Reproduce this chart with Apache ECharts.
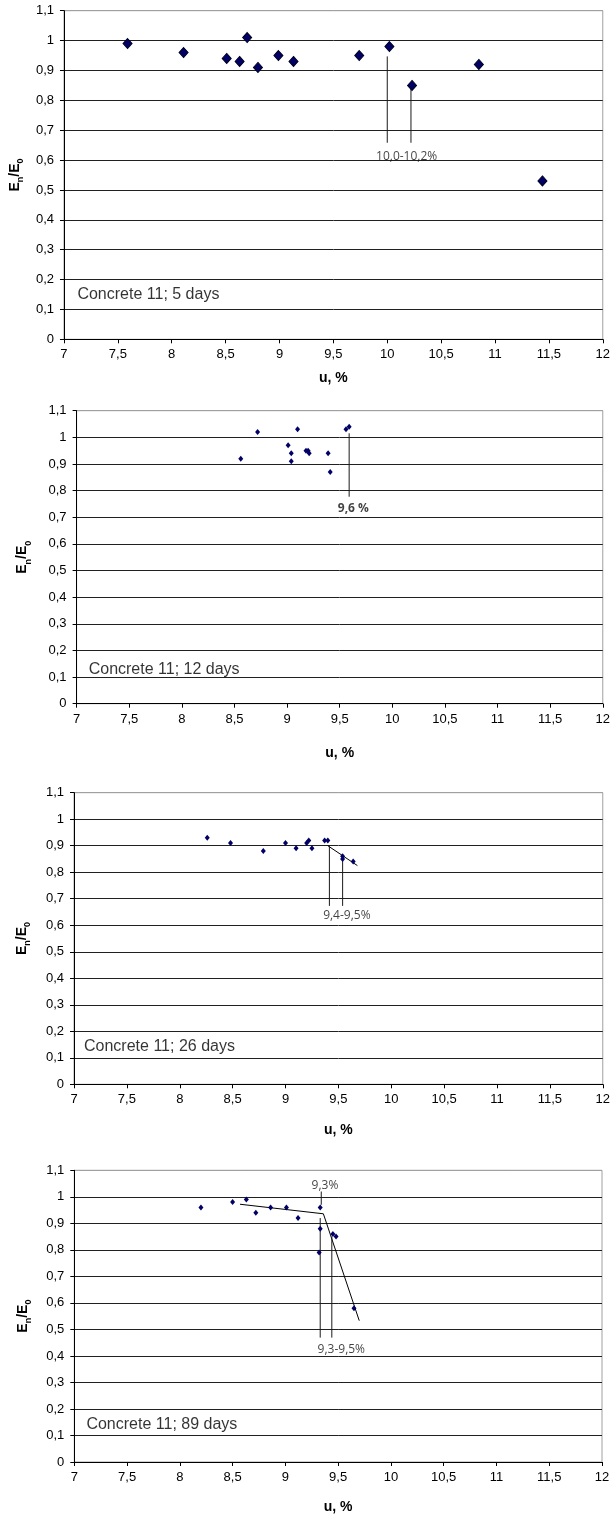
<!DOCTYPE html>
<html>
<head>
<meta charset="utf-8">
<script src="https://cdn.jsdelivr.net/npm/echarts@6/dist/echarts.min.js"></script>
<style>
html,body{margin:0;padding:0;background:#fff;}
#chart{width:613px;height:1515px;}
</style>
</head>
<body>
<div id="chart"></div>
<script>
// ---------- data ----------
const titles = ['Concrete 11; 5 days', 'Concrete 11; 12 days', 'Concrete 11; 26 days', 'Concrete 11; 89 days'];
const xAxisTitle = 'u, %';

const c1x = [7.59, 8.11, 8.51, 8.63, 8.70, 8.80, 8.99, 9.13, 9.74, 10.02, 10.23, 10.85, 11.44];
const c1y = [0.99, 0.96, 0.94, 0.93, 1.01, 0.91, 0.95, 0.93, 0.95, 0.98, 0.85, 0.92, 0.53];

const c2x = [8.56, 8.72, 9.01, 9.04, 9.04, 9.10, 9.18, 9.20, 9.21, 9.39, 9.41, 9.56, 9.59];
const c2y = [0.92, 1.02, 0.97, 0.94, 0.91, 1.03, 0.95, 0.95, 0.94, 0.94, 0.87, 1.03, 1.04];

const c3x = [8.26, 8.48, 8.79, 9.00, 9.10, 9.20, 9.22, 9.25, 9.37, 9.40, 9.54, 9.54, 9.64];
const c3y = [0.93, 0.91, 0.88, 0.91, 0.89, 0.91, 0.92, 0.89, 0.92, 0.92, 0.86, 0.85, 0.84];

const c4x = [8.20, 8.50, 8.63, 8.72, 8.86, 9.01, 9.12, 9.33, 9.33, 9.32, 9.45, 9.48, 9.65];
const c4y = [0.96, 0.98, 0.99, 0.94, 0.96, 0.96, 0.92, 0.96, 0.88, 0.79, 0.86, 0.85, 0.58];

// trend lines
const t3x = [9.40, 9.68];
const t3y = [0.90, 0.825];
const t4x = [8.57, 9.36, 9.70];
const t4y = [0.972, 0.936, 0.533];

// annotation leader lines (x, yTop, yBottom)
const lead1 = [[10.00, 0.947, 0.658], [10.22, 0.84, 0.658]];
const lead2 = [[9.59, 1.015, 0.777]];
const lead3 = [[9.415, 0.90, 0.673], [9.54, 0.85, 0.673]];
const lead4 = [[9.34, 1.02, 0.97], [9.33, 0.92, 0.469], [9.44, 0.85, 0.469]];

// annotation texts (text, x, y)
const ann1 = [['10,0-10,2%', 10.18, 0.61]];
const ann2 = [['9,6 %', 9.63, 0.733]];
const ann3 = [['9,4-9,5%', 9.58, 0.635]];
const ann4 = [['9,3%', 9.375, 1.044], ['9,3-9,5%', 9.53, 0.424]];

// panel captions positions (x, y)
const capPos = [[7.12, 0.148], [7.11, 0.129], [7.09, 0.144], [7.11, 0.142]];

// ---------- layout ----------
const grids = [
  {left: 62.5, top: 10.7, width: 540.7, height: 328.6},
  {left: 76.6, top: 410.7, width: 527.4, height: 293},
  {left: 74, top: 792.7, width: 529, height: 291.6},
  {left: 74.3, top: 1170.3, width: 527.7, height: 292.4}
];
const xNameGap = [32, 42, 39, 38];
const yNameGap = [29, 47, 45, 44];

const fmt = v => String(Math.round(v * 10) / 10).replace('.', ',');
const FONT = 'Liberation Sans, Arial, sans-serif';

const gridLineColors = [];
for (let i = 0; i <= 11; i++) gridLineColors.push(i === 11 ? '#a0a0a0' : '#202020');

const option = {
  animation: false,
  backgroundColor: '#fff',
  grid: grids.map(g => Object.assign({show: true, borderColor: '#a0a0a0', borderWidth: 1, backgroundColor: 'transparent'}, g)),
  xAxis: grids.map((g, i) => ({
    gridIndex: i, type: 'value', min: 7, max: 12, interval: 0.5,
    name: xAxisTitle, nameLocation: 'middle', nameGap: xNameGap[i],
    nameTextStyle: {fontFamily: FONT, fontSize: 14, fontWeight: 'bold', color: '#000'},
    axisLine: {show: true, onZero: false, lineStyle: {color: '#000', width: 1}},
    axisTick: {show: true, length: 4, lineStyle: {color: '#000'}},
    axisLabel: {formatter: fmt, fontFamily: FONT, fontSize: 13, color: '#000', margin: 9},
    splitLine: {show: false}
  })),
  yAxis: grids.map((g, i) => ({
    gridIndex: i, type: 'value', min: 0, max: 1.1, interval: 0.1,
    name: '{b|E}{s|n}{b|/E}{s|0}', nameLocation: 'middle', nameGap: yNameGap[i], nameRotate: 90,
    nameTextStyle: {
      rich: {
        b: {fontFamily: FONT, fontSize: 14, fontWeight: 'bold', color: '#000', verticalAlign: 'bottom', lineHeight: 16},
        s: {fontFamily: FONT, fontSize: 9, fontWeight: 'bold', color: '#000', verticalAlign: 'bottom', lineHeight: 12, padding: [0, 0, -3, 0]}
      }
    },
    axisLine: {show: true, lineStyle: {color: '#000', width: 1}},
    axisTick: {show: true, length: 4, lineStyle: {color: '#000'}},
    axisLabel: {formatter: fmt, fontFamily: FONT, fontSize: 13, color: '#000', margin: 10},
    splitLine: {show: true, lineStyle: {color: gridLineColors, width: 1}}
  })),
  series: []
};

const pts = [[c1x, c1y], [c2x, c2y], [c3x, c3y], [c4x, c4y]];
pts.forEach((p, i) => {
  option.series.push({
    type: 'scatter', xAxisIndex: i, yAxisIndex: i, silent: true,
    symbol: 'diamond', symbolSize: i === 0 ? [9, 10] : [5, 6],
    itemStyle: {color: '#000066', opacity: 1, borderColor: i === 0 ? '#000022' : '#000066', borderWidth: i === 0 ? 1 : 0},
    data: p[0].map((x, k) => [x, p[1][k]]),
    z: 5
  });
});

function addLine(gi, xs, ys, color) {
  option.series.push({
    type: 'line', xAxisIndex: gi, yAxisIndex: gi, silent: true, symbol: 'none',
    lineStyle: {color: color || '#000', width: 1},
    data: xs.map((x, k) => [x, ys[k]]), z: 4
  });
}
addLine(2, t3x, t3y);
addLine(3, t4x, t4y);

[lead1, lead2, lead3, lead4].forEach((leads, gi) => {
  leads.forEach(l => addLine(gi, [l[0], l[0]], [l[1], l[2]], '#1a1a1a'));
});

[ann1, ann2, ann3, ann4].forEach((anns, gi) => {
  option.series.push({
    type: 'scatter', xAxisIndex: gi, yAxisIndex: gi, silent: true, symbolSize: 1,
    itemStyle: {color: 'rgba(0,0,0,0)'},
    label: {
      show: true, position: 'inside', formatter: p => p.data[2],
      fontFamily: 'Open Sans, sans-serif', fontSize: 12, color: '#111',
      fontWeight: gi === 1 ? 'bold' : 'normal'
    },
    data: anns.map(a => [a[1], a[2], a[0]]), z: 6
  });
});

titles.forEach((t, gi) => {
  option.series.push({
    type: 'scatter', xAxisIndex: gi, yAxisIndex: gi, silent: true, symbolSize: 1,
    itemStyle: {color: 'rgba(0,0,0,0)'},
    label: {show: true, position: 'right', distance: 0, formatter: t, fontFamily: FONT, fontSize: 16, color: '#000'},
    data: [capPos[gi]], z: 6
  });
});

const chart = echarts.init(document.getElementById('chart'), null, {renderer: 'canvas'});
chart.setOption(option);
</script>
</body>
</html>
